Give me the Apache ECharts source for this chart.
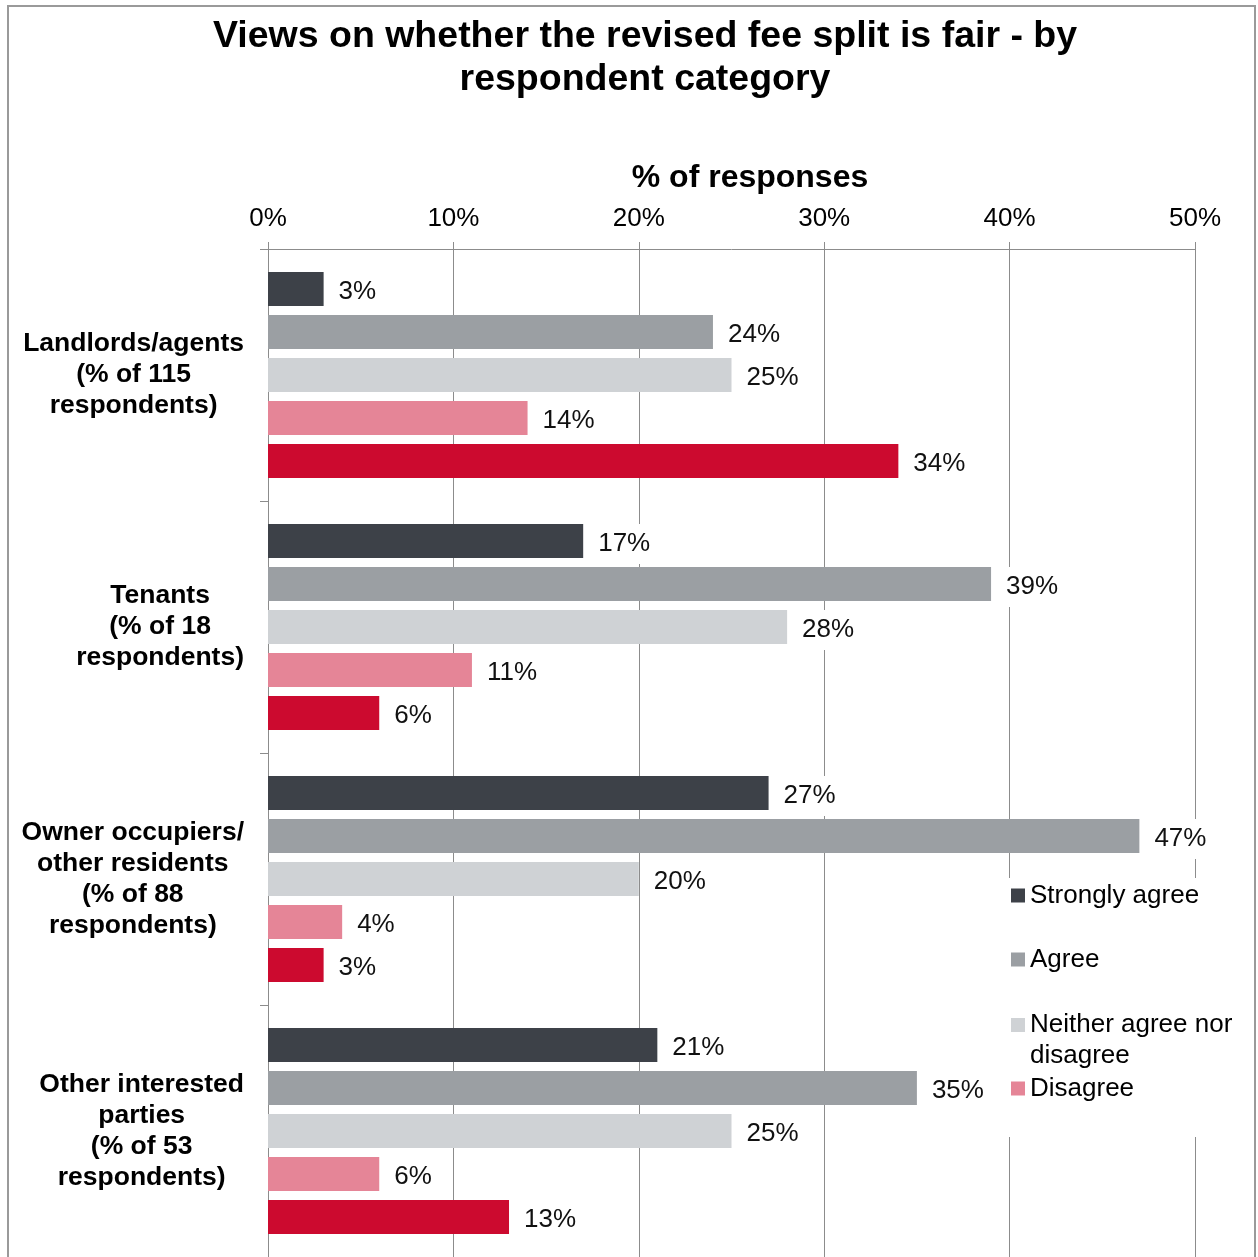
<!DOCTYPE html>
<html>
<head>
<meta charset="utf-8">
<title>Views on whether the revised fee split is fair - by respondent category</title>
<script src="https://cdn.jsdelivr.net/npm/echarts@6/dist/echarts.min.js"></script>
<style>
  html, body { margin: 0; padding: 0; background: #fff; }
  #chart { width: 1258px; height: 1257px; }
</style>
</head>
<body>
<div id="chart"></div>
<script>
// Respondent groups (top to bottom)
const categories = [
  'Landlords/agents\n(% of 115\nrespondents)',
  'Tenants\n(% of 18\nrespondents)',
  'Owner occupiers/\nother residents\n(% of 88\nrespondents)',
  'Other interested\nparties\n(% of 53\nrespondents)'
];

// Response shares, % of each group
const stronglyAgree    = [3, 17, 27, 21];
const agree            = [24, 39, 47, 35];
const neither          = [25, 28, 20, 25];
const disagree         = [14, 11, 4, 6];
const stronglyDisagree = [34, 6, 3, 13];

const seriesNames = ['Strongly agree', 'Agree', 'Neither agree nor disagree', 'Disagree', 'Strongly disagree'];
const seriesData = [stronglyAgree, agree, neither, disagree, stronglyDisagree];
const seriesColors = ['#3d4148', '#9b9fa3', '#cfd2d5', '#e58597', '#cc0a2f'];

const xTicks = { min: 0, max: 50, interval: 10 };

const FONT = '"Liberation Sans", Arial, sans-serif';
const AXIS_GREY = '#8c8c8c';

const chart = echarts.init(document.getElementById('chart'), null, { renderer: 'canvas' });

// One legend entry per block so the entries can sit at their own heights.
// The two-line entry gets an empty first line so its swatch lines up with
// the first line of text.
function legendFor(name, top) {
  return {
    data: [name],
    orient: 'vertical',
    left: 1011,
    top: top,
    padding: 0,
    itemWidth: 14,
    itemHeight: 14,
    icon: 'rect',
    selectedMode: false,
    formatter: n => n === 'Neither agree nor disagree' ? '\nNeither agree nor\ndisagree' : n,
    textStyle: {
      fontFamily: FONT,
      fontSize: 26,
      lineHeight: 31,
      color: '#000'
    }
  };
}

const option = {
  backgroundColor: '#fff',
  animation: false,
  textStyle: { fontFamily: FONT },
  title: {
    text: 'Views on whether the revised fee split is fair - by\nrespondent category',
    left: 645,
    top: 15,
    padding: 0,
    textAlign: 'center',
    textStyle: {
      fontFamily: FONT,
      fontSize: 37.5,
      fontWeight: 'bold',
      lineHeight: 43,
      color: '#000'
    }
  },
  legend: [
    legendFor('Strongly agree', 880),
    legendFor('Agree', 944),
    legendFor('Neither agree nor disagree', 978.5),
    legendFor('Disagree', 1073)
  ],
  grid: {
    left: 268,
    right: 63,
    top: 249,
    bottom: 0,
    containLabel: false
  },
  xAxis: {
    type: 'value',
    position: 'top',
    min: xTicks.min,
    max: xTicks.max,
    interval: xTicks.interval,
    name: '% of responses',
    nameLocation: 'middle',
    nameGap: 55,
    nameTextStyle: {
      fontFamily: FONT,
      fontSize: 32,
      fontWeight: 'bold',
      color: '#000',
      padding: [0, 0, 0, 37]
    },
    axisLine: { show: true, lineStyle: { color: AXIS_GREY, width: 1 } },
    axisTick: { show: true, length: 7, inside: false, lineStyle: { color: AXIS_GREY } },
    axisLabel: {
      formatter: '{value}%',
      margin: 17,
      fontFamily: FONT,
      fontSize: 26,
      color: '#000'
    },
    splitLine: { show: true, lineStyle: { color: AXIS_GREY, width: 1 } }
  },
  yAxis: {
    type: 'category',
    inverse: true,
    data: categories,
    axisLine: { show: true, lineStyle: { color: AXIS_GREY, width: 1 } },
    axisTick: { show: true, length: 8, inside: false, lineStyle: { color: AXIS_GREY } },
    axisLabel: {
      align: 'right',
      margin: 24,
      formatter: v => v.split('\n').map(s => '{c|' + s + '}').join('\n'),
      rich: {
        c: {
          align: 'center',
          fontFamily: FONT,
          fontSize: 26.5,
          fontWeight: 'bold',
          lineHeight: 31,
          color: '#000'
        }
      }
    },
    splitLine: { show: false }
  },
  series: seriesNames.map((name, i) => ({
    name: name,
    type: 'bar',
    data: seriesData[i],
    barWidth: 34,
    barGap: '26.5%',
    itemStyle: { color: seriesColors[i] },
    label: {
      show: true,
      position: 'right',
      distance: 11,
      offset: [0, 3],
      formatter: '{c}%',
      fontFamily: FONT,
      fontSize: 26,
      color: '#111',
      backgroundColor: '#fff',
      padding: [7, 4, 7, 4]
    }
  })),
  graphic: [
    {
      // outer frame
      type: 'rect',
      z: 100,
      silent: true,
      shape: { x: 8, y: 6, width: 1247, height: 1300 },
      style: { fill: null, stroke: '#9a9a9a', lineWidth: 2 }
    },
    {
      // white panel behind the legend
      type: 'rect',
      z: 3,
      silent: true,
      shape: { x: 990, y: 878, width: 255, height: 259 },
      style: { fill: '#fff', stroke: null }
    }
  ]
};

chart.setOption(option);
</script>
</body>
</html>
